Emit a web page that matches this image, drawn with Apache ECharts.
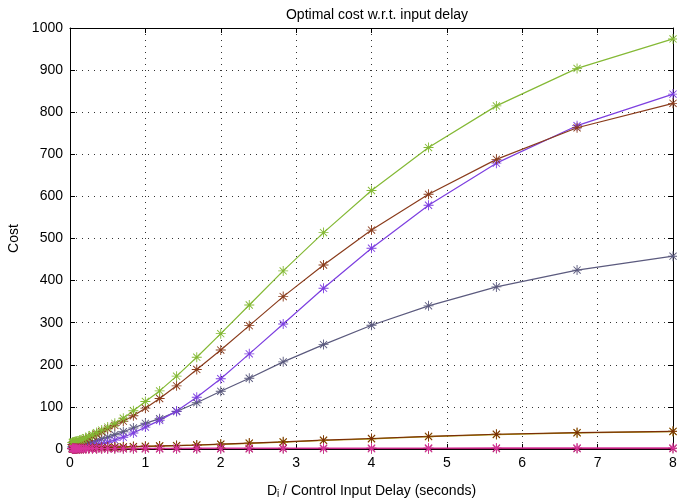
<!DOCTYPE html>
<html>
<head>
<meta charset="utf-8">
<script src="https://cdn.jsdelivr.net/npm/echarts@6/dist/echarts.min.js"></script>
<style>html,body{margin:0;padding:0;background:#fff;}#c{width:677px;height:500px;}</style>
</head>
<body>
<div id="c"></div>
<script>
const xValues = [0.0313, 0.0372, 0.0442, 0.0526, 0.0625, 0.0743, 0.0884, 0.1051, 0.125, 0.1487, 0.1768, 0.2102, 0.25, 0.2973, 0.3536, 0.4204, 0.5, 0.5946, 0.7071, 0.8409, 1, 1.1892, 1.4142, 1.6818, 2, 2.3784, 2.8284, 3.3636, 4, 4.7568, 5.6569, 6.7272, 8];
const greenCost = [15.5, 15.8, 16.1, 16.5, 17, 17.6, 18.3, 19.2, 20.5, 22, 24, 27, 30, 34, 39, 45, 52, 61, 73, 91, 113, 138, 173, 218, 274, 342, 423, 514, 614, 716, 815, 904, 974];
const brownCost = [10.5, 10.8, 11.1, 11.5, 12, 12.6, 13.3, 14.3, 15.5, 17, 19.5, 22.5, 26, 30, 35, 41, 48, 56, 66, 79, 97, 120, 150, 189, 235, 293, 362, 437, 520, 605, 688, 763, 821];
const purpleCost = [2, 2.1, 2.2, 2.3, 2.5, 2.7, 3, 3.3, 3.7, 4.2, 5, 6, 7, 8.5, 10.5, 13, 16, 21, 28, 38, 52, 68, 90, 123, 167, 226, 297, 382, 477, 579, 679, 768, 843];
const slateCost = [5, 5.2, 5.4, 5.7, 6, 6.4, 6.9, 7.5, 8.3, 9.3, 10.5, 12, 14, 16.5, 20, 24, 28, 34, 41, 50, 61, 72, 89, 110, 137, 168, 207, 248, 294, 340, 385, 425, 458];
const oliveCost = [0.9, 0.9, 1, 1, 1.1, 1.2, 1.3, 1.4, 1.5, 1.7, 1.9, 2.1, 2.4, 2.7, 3, 3.4, 3.9, 4.4, 4.9, 5.5, 6.2, 7, 7.9, 9.1, 11, 13.3, 16.2, 20.2, 24.2, 29.2, 34.2, 38.3, 41.3];
const darkBrownCost = [1, 1, 1.1, 1.1, 1.2, 1.3, 1.4, 1.5, 1.6, 1.8, 2, 2.2, 2.5, 2.8, 3.1, 3.5, 4, 4.5, 5, 5.7, 6.4, 7.2, 8.2, 9.5, 11.5, 14, 17, 21, 25, 30, 35, 39, 42];
const crimsonCost = [0.3, 0.3, 0.3, 0.3, 0.3, 0.3, 0.3, 0.3, 0.3, 0.3, 0.3, 0.3, 0.3, 0.3, 0.4, 0.4, 0.4, 0.4, 0.4, 0.5, 0.5, 0.5, 0.5, 0.6, 0.6, 0.6, 0.7, 0.7, 0.8, 0.8, 0.9, 0.9, 1];
const magentaCost = [1, 1, 1, 1, 1, 1, 1.1, 1.1, 1.1, 1.1, 1.2, 1.2, 1.2, 1.3, 1.3, 1.4, 1.4, 1.5, 1.5, 1.6, 1.7, 1.7, 1.8, 1.9, 2, 2, 2.1, 2.2, 2.3, 2.4, 2.5, 2.6, 2.7];
const xTicks = [0, 1, 2, 3, 4, 5, 6, 7, 8];
const yTicks = [0, 100, 200, 300, 400, 500, 600, 700, 800, 900, 1000];

const star = 'path://M0,9.1L20,9.1L20,10.9L0,10.9Z M9.1,0L10.9,0L10.9,20L9.1,20Z M2.2,3.5L3.5,2.2L17.8,16.5L16.5,17.8Z M16.5,2.2L17.8,3.5L3.5,17.8L2.2,16.5Z';
const FONT = 'Liberation Sans, Arial, Helvetica, sans-serif';

function mk(name, arr, color) {
  return {
    name: name, type: 'line',
    data: xValues.map((x, i) => [x, arr[i]]),
    symbol: star, symbolSize: 10,
    showAllSymbol: true,
    lineStyle: { color: color, width: 1.2 },
    itemStyle: { color: color },
    emphasis: { disabled: true },
    animation: false
  };
}

const chart = echarts.init(document.getElementById('c'), null, { renderer: 'canvas' });
const axisCommon = {
  axisLine: { show: true, onZero: false, lineStyle: { color: '#000', width: 1 } },
  axisTick: { show: true, inside: true, length: 5, lineStyle: { color: '#000' } },
};
chart.setOption({
  backgroundColor: '#fff',
  animation: false,
  title: {
    text: 'Optimal cost w.r.t. input delay',
    left: 372, top: 3, textAlign: 'center',
    textStyle: { fontFamily: FONT, fontSize: 14, fontWeight: 'normal', color: '#000' }
  },
  grid: { left: 70, right: 4, top: 28, bottom: 51, containLabel: false, outerBoundsMode: 'none' },
  xAxis: [
    Object.assign({
      type: 'value', min: xTicks[0], max: xTicks[xTicks.length - 1], interval: 1,
      position: 'bottom',
      axisLabel: { color: '#000', fontFamily: FONT, fontSize: 14, margin: 7 },
      splitLine: { show: true, lineStyle: { color: '#333', type: [1, 5], width: 1 } },
      name: '{a|D}{s|i}{a| / Control Input Delay (seconds)}',
      nameLocation: 'middle', nameGap: 30,
      nameTextStyle: {
        color: '#000', fontFamily: FONT,
        rich: {
          a: { fontFamily: FONT, fontSize: 14, color: '#000', lineHeight: 16 },
          s: { fontFamily: FONT, fontSize: 10, color: '#000', lineHeight: 16, verticalAlign: 'bottom', padding: [14, 0, 0, 0] }
        }
      }
    }, axisCommon),
    Object.assign({
      type: 'value', min: 0, max: 8, interval: 1, position: 'top',
      axisLabel: { show: false }, splitLine: { show: false }
    }, axisCommon)
  ],
  yAxis: [
    Object.assign({
      type: 'value', min: yTicks[0], max: yTicks[yTicks.length - 1], interval: 100,
      position: 'left',
      axisLabel: { color: '#000', fontFamily: FONT, fontSize: 14, margin: 7, formatter: v => String(v) },
      splitLine: { show: true, lineStyle: { color: '#333', type: [1, 5], width: 1 } },
      name: 'Cost', nameLocation: 'middle', nameGap: 48, nameRotate: 90,
      nameTextStyle: { color: '#000', fontFamily: FONT, fontSize: 14 }
    }, axisCommon),
    Object.assign({
      type: 'value', min: 0, max: 1000, interval: 100, position: 'right',
      axisLabel: { show: false }, splitLine: { show: false }
    }, axisCommon)
  ],
  series: [
    mk('slate', slateCost, '#5b5a7e'),
    mk('purple', purpleCost, '#7d3fe0'),
    mk('brown', brownCost, '#8a3c1c'),
    mk('green', greenCost, '#84b935'),
    mk('olive', oliveCost, '#a8980a'),
    mk('darkbrown', darkBrownCost, '#7a2e06'),
    mk('crimson', crimsonCost, '#9c1050'),
    mk('magenta', magentaCost, '#d8359c')
  ]
});
</script>
</body>
</html>
